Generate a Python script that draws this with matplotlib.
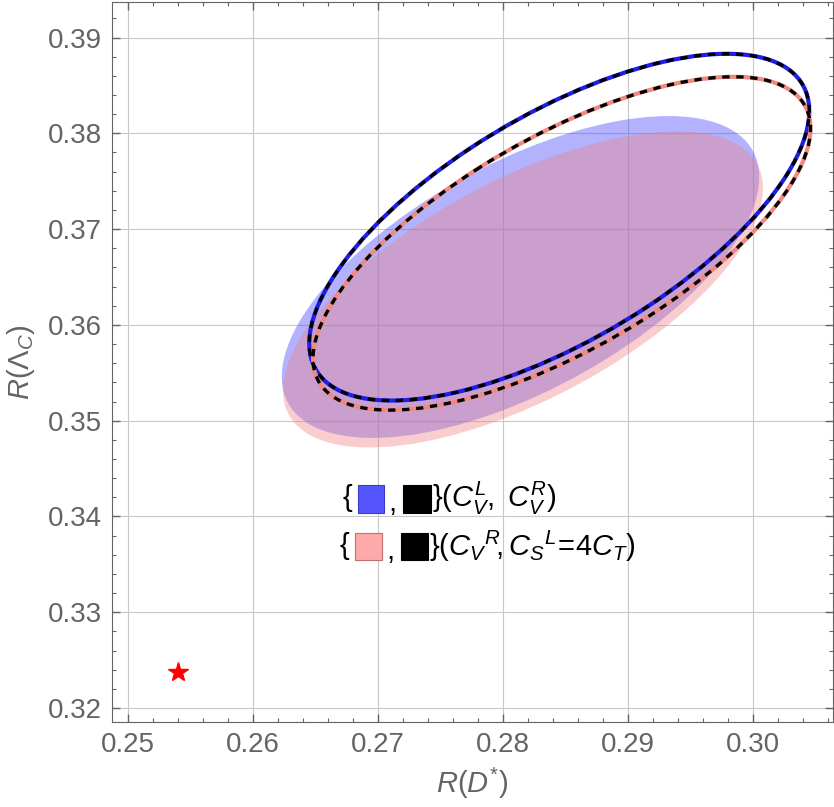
import numpy as np
import matplotlib
matplotlib.use("Agg")
import matplotlib.pyplot as plt
from matplotlib.patches import Ellipse, Rectangle

# regions: centre, half extent in x / y, correlation
fill_names = ["CVL_CVR", "CVR_CSL"]
fill_cx = [0.2814, 0.2816]
fill_cy = [0.3650, 0.3637]
fill_hw = [0.0191, 0.0192]
fill_hh = [0.0168, 0.0165]
fill_rho = [0.62, 0.64]

line_cx = [0.2845, 0.2847]
line_cy = [0.3702, 0.3685]
line_hw = [0.0200, 0.0199]
line_hh = [0.0181, 0.0174]
line_rho = [0.67, 0.69]

sm_x = [0.254]
sm_y = [0.3238]

xticks = [0.25, 0.26, 0.27, 0.28, 0.29, 0.30]
yticks = [0.32, 0.33, 0.34, 0.35, 0.36, 0.37, 0.38, 0.39]

plt.rcParams['font.family'] = ['Liberation Sans', 'DejaVu Sans']
plt.rcParams['mathtext.fontset'] = 'custom'
plt.rcParams['mathtext.rm'] = 'Liberation Sans'
plt.rcParams['mathtext.it'] = 'Liberation Sans:italic'

W, H = 834, 807
fig = plt.figure(figsize=(W / 100, H / 100), dpi=100)
ax = fig.add_axes([112 / W, 1 - 722 / H, (833 - 112) / W, (722 - 1.5) / H])


def region(cx, cy, hw, hh, rho, **kw):
    cov = np.array([[hw * hw, rho * hw * hh], [rho * hw * hh, hh * hh]])
    w, v = np.linalg.eigh(cov)
    ang = np.degrees(np.arctan2(v[1, 1], v[0, 1]))
    return Ellipse((cx, cy), 2 * np.sqrt(w[1]), 2 * np.sqrt(w[0]), angle=ang, **kw)


fill_cols = [((0.33, 0.33, 1.0), 0.45), ((0.94, 0.51, 0.51), 0.40)]
for i in range(2):
    c, a = fill_cols[i]
    ax.add_patch(region(fill_cx[i], fill_cy[i], fill_hw[i], fill_hh[i], fill_rho[i],
                        facecolor=c, alpha=a, edgecolor='none', zorder=2))

line_cols = ['#1e1ee6', '#f08a80']
for i in range(2):
    ax.add_patch(region(line_cx[i], line_cy[i], line_hw[i], line_hh[i], line_rho[i],
                        fill=False, edgecolor=line_cols[i], lw=3, zorder=3))
    ax.add_patch(region(line_cx[i], line_cy[i], line_hw[i], line_hh[i], line_rho[i],
                        fill=False, edgecolor='black', lw=2.4,
                        linestyle=(0, (2.2, 2.0)), zorder=4))

ax.plot(sm_x, sm_y, marker='*', color='red', ms=15, ls='none', zorder=5)

ax.set_xlim(0.24872, 0.3064)
ax.set_ylim(0.31854, 0.39376)
ax.set_xticks(xticks)
ax.set_yticks(yticks)
ax.set_xticklabels([f"{t:.2f}" for t in xticks])
ax.set_yticklabels([f"{t:.2f}" for t in yticks])
ax.minorticks_on()
ax.xaxis.set_minor_locator(matplotlib.ticker.MultipleLocator(0.002))
ax.yaxis.set_minor_locator(matplotlib.ticker.MultipleLocator(0.002))
gray = '#646464'
ax.tick_params(which='both', direction='in', top=True, right=True, color=gray,
               labelcolor=gray, labelsize=20, pad=7)
ax.tick_params(which='major', length=6, width=1)
ax.tick_params(which='minor', length=3, width=0.8)
for s in ax.spines.values():
    s.set_color(gray)
ax.grid(True, which='major', color='#c8c8c8', lw=0.8, zorder=0)
ax.set_axisbelow(True)

ax.set_xlabel(r"$R(D^{*})$", fontsize=21, color=gray, labelpad=6)
ax.set_ylabel(r"$R(\mathit{\Lambda}_C)$", fontsize=21, color=gray, labelpad=8)

# legend built from pieces
def px(x, y):
    return x / W, 1 - y / H


def square(x0, x1, y0, y1, fc, ec):
    fx, fy = px(x0, y1)
    fig.patches.append(Rectangle((fx, fy), (x1 - x0) / W, (y1 - y0) / H,
                                 transform=fig.transFigure, facecolor=fc,
                                 edgecolor=ec, lw=0.8, zorder=10))


tk = dict(fontsize=21, color='black', va='center', ha='left')
fig.text(*px(343, 498), "{", **tk)
square(358, 384, 485, 513, '#5555ff', '#3c3cc8')
fig.text(*px(388, 503), ",", **tk)
square(403, 431, 485, 513, 'black', 'black')
fig.text(*px(432, 498), r"}$(C_V^L,\ C_V^R)$", **tk)

fig.text(*px(340, 546), "{", **tk)
square(355, 382, 533, 560, '#ffaaaa', '#c07070')
fig.text(*px(386, 551), ",", **tk)
square(401, 428, 533, 560, 'black', 'black')
fig.text(*px(429, 546), r"}$(C_V{}^R\!,C_S{}^L\!=\!4C_T)$", **tk)

fig.savefig("out.png", dpi=100)
